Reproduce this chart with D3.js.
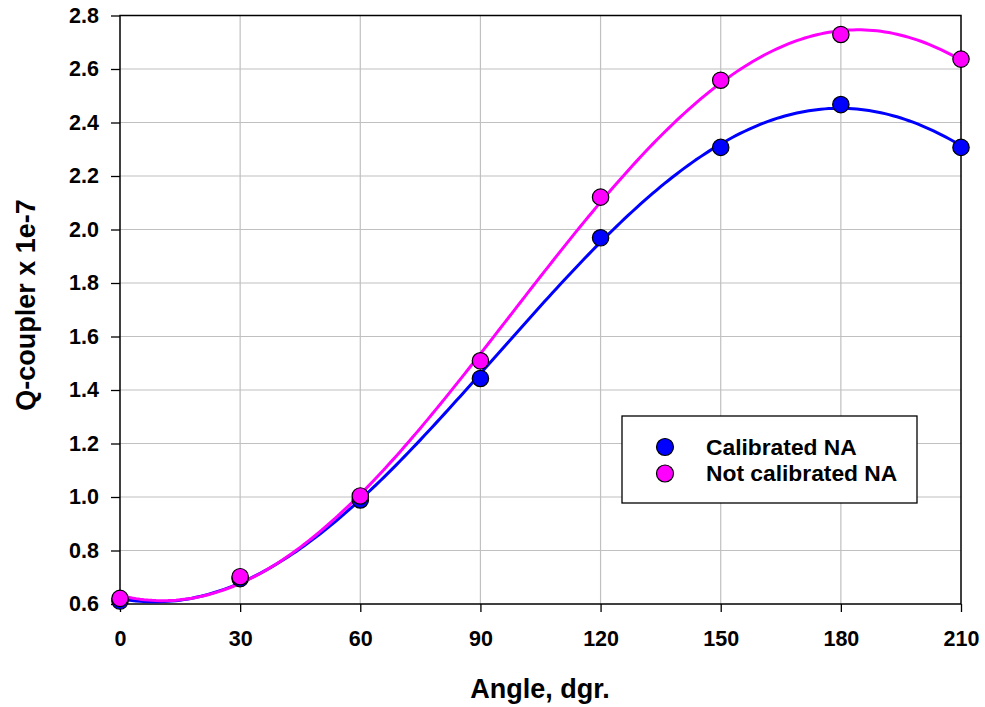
<!DOCTYPE html>
<html>
<head>
<meta charset="utf-8">
<script src="https://cdn.jsdelivr.net/npm/d3@7"></script>
<style>
  html, body { margin: 0; padding: 0; background: #fff; }
  svg { display: block; }
  text { font-family: "Liberation Sans", Arial, sans-serif; font-weight: bold; fill: #000; }
</style>
</head>
<body>
<script>
// Coupler Q factor versus rotation angle
const angles = [0, 30, 60, 90, 120, 150, 180, 210];
const calibrated = [0.611, 0.695, 0.989, 1.443, 1.969, 2.307, 2.467, 2.307];
const notCalibrated = [0.621, 0.702, 1.004, 1.509, 2.121, 2.558, 2.729, 2.637];
const xTicks = [0, 30, 60, 90, 120, 150, 180, 210];
const yTicks = [0.6, 0.8, 1.0, 1.2, 1.4, 1.6, 1.8, 2.0, 2.2, 2.4, 2.6, 2.8];
const seriesNames = ["Calibrated NA", "Not calibrated NA"];
const seriesColors = ["#0000ff", "#ff00ff"];

const W = 985, H = 707;
const plot = { left: 120, top: 15.5, right: 961, bottom: 604 };

const svg = d3.select("body").append("svg").attr("width", W).attr("height", H);

const x = d3.scaleLinear().domain([0, 210]).range([plot.left, plot.right]);
const y = d3.scaleLinear().domain([0.6, 2.8]).range([plot.bottom, plot.top]);

// grid
const grid = svg.append("g").attr("stroke", "#c0c0c0").attr("stroke-width", 1.2);
grid.selectAll("line.v").data(xTicks.slice(1, -1)).join("line")
  .attr("x1", d => x(d)).attr("x2", d => x(d))
  .attr("y1", plot.top).attr("y2", plot.bottom);
grid.selectAll("line.h").data(yTicks.slice(1, -1)).join("line")
  .attr("y1", d => y(d)).attr("y2", d => y(d))
  .attr("x1", plot.left).attr("x2", plot.right);

// axes
const xAxis = svg.append("g").attr("transform", `translate(0,${plot.bottom})`)
  .call(d3.axisBottom(x).tickValues(xTicks).tickSize(8).tickPadding(19).tickFormat(d3.format("d")));
const yAxis = svg.append("g").attr("transform", `translate(${plot.left},0)`)
  .call(d3.axisLeft(y).tickValues(yTicks).tickSize(9).tickPadding(12).tickFormat(d3.format(".1f")));
[xAxis, yAxis].forEach(g => {
  g.select(".domain").remove();
  g.selectAll(".tick line").attr("stroke", "#000").attr("stroke-width", 1.3);
  g.selectAll(".tick text").style("font-size", "21.5px").style("font-family", "Liberation Sans, Arial, sans-serif").style("font-weight", "bold");
});

// frame
svg.append("rect")
  .attr("x", plot.left).attr("y", plot.top)
  .attr("width", plot.right - plot.left).attr("height", plot.bottom - plot.top)
  .attr("fill", "none").attr("stroke", "#000").attr("stroke-width", 1.5);

// sine regression y = y0 + a*sin(2*pi*x/b) + c*cos(2*pi*x/b):
// linear least squares for each trial period b, keeping the best period
function solve3(M, v) {
  const A = M.map((r, i) => [...r, v[i]]);
  for (let c = 0; c < 3; c++) {
    let p = c;
    for (let r = c + 1; r < 3; r++) if (Math.abs(A[r][c]) > Math.abs(A[p][c])) p = r;
    [A[c], A[p]] = [A[p], A[c]];
    for (let r = 0; r < 3; r++) {
      if (r === c) continue;
      const f = A[r][c] / A[c][c];
      for (let k = c; k <= 3; k++) A[r][k] -= f * A[c][k];
    }
  }
  return A.map((r, i) => r[3] / r[i]);
}
function sineFit(xs, ys) {
  let best = null;
  for (let b = 200; b <= 600; b += 0.25) {
    const w = 2 * Math.PI / b;
    const basis = xv => [1, Math.sin(w * xv), Math.cos(w * xv)];
    const M = [[0, 0, 0], [0, 0, 0], [0, 0, 0]], v = [0, 0, 0];
    xs.forEach((xv, k) => {
      const r = basis(xv);
      for (let i = 0; i < 3; i++) {
        for (let j = 0; j < 3; j++) M[i][j] += r[i] * r[j];
        v[i] += r[i] * ys[k];
      }
    });
    const c = solve3(M, v);
    const f = xv => { const r = basis(xv); return c[0] * r[0] + c[1] * r[1] + c[2] * r[2]; };
    const sse = d3.sum(xs, (xv, k) => (f(xv) - ys[k]) ** 2);
    if (!best || sse < best.sse) best = { sse, f };
  }
  return best.f;
}

const series = [calibrated, notCalibrated];
const line = d3.line().x(d => x(d[0])).y(d => y(d[1]));
const sampleX = d3.range(0, 210.01, 1);

series.forEach((vals, i) => {
  const f = sineFit(angles, vals);
  svg.append("path")
    .attr("d", line(sampleX.map(a => [a, f(a)])))
    .attr("fill", "none").attr("stroke", seriesColors[i]).attr("stroke-width", 3);
});

series.forEach((vals, i) => {
  svg.append("g").selectAll("circle").data(angles.map((a, k) => [a, vals[k]])).join("circle")
    .attr("cx", d => x(d[0])).attr("cy", d => y(d[1])).attr("r", 8.2)
    .attr("fill", seriesColors[i]).attr("stroke", "#000").attr("stroke-width", 1.2);
});

// axis titles
svg.append("text").attr("x", 540).attr("y", 698)
  .attr("text-anchor", "middle").style("font-size", "27px").text("Angle, dgr.");
svg.append("text").attr("transform", "translate(35,305) rotate(-90)")
  .attr("text-anchor", "middle").style("font-size", "27px").text("Q-coupler x 1e-7");

// legend
const lg = svg.append("g").attr("transform", "translate(622,416)");
lg.append("rect").attr("width", 295).attr("height", 87)
  .attr("fill", "#fff").attr("stroke", "#000").attr("stroke-width", 1.3);
seriesNames.forEach((name, i) => {
  const cy = 31 + i * 26.5;
  lg.append("circle").attr("cx", 43).attr("cy", cy).attr("r", 8.5)
    .attr("fill", seriesColors[i]).attr("stroke", "#000").attr("stroke-width", 1.2);
  lg.append("text").attr("x", 84).attr("y", cy + 7.8).style("font-size", "22.8px").text(name);
});
</script>
</body>
</html>
